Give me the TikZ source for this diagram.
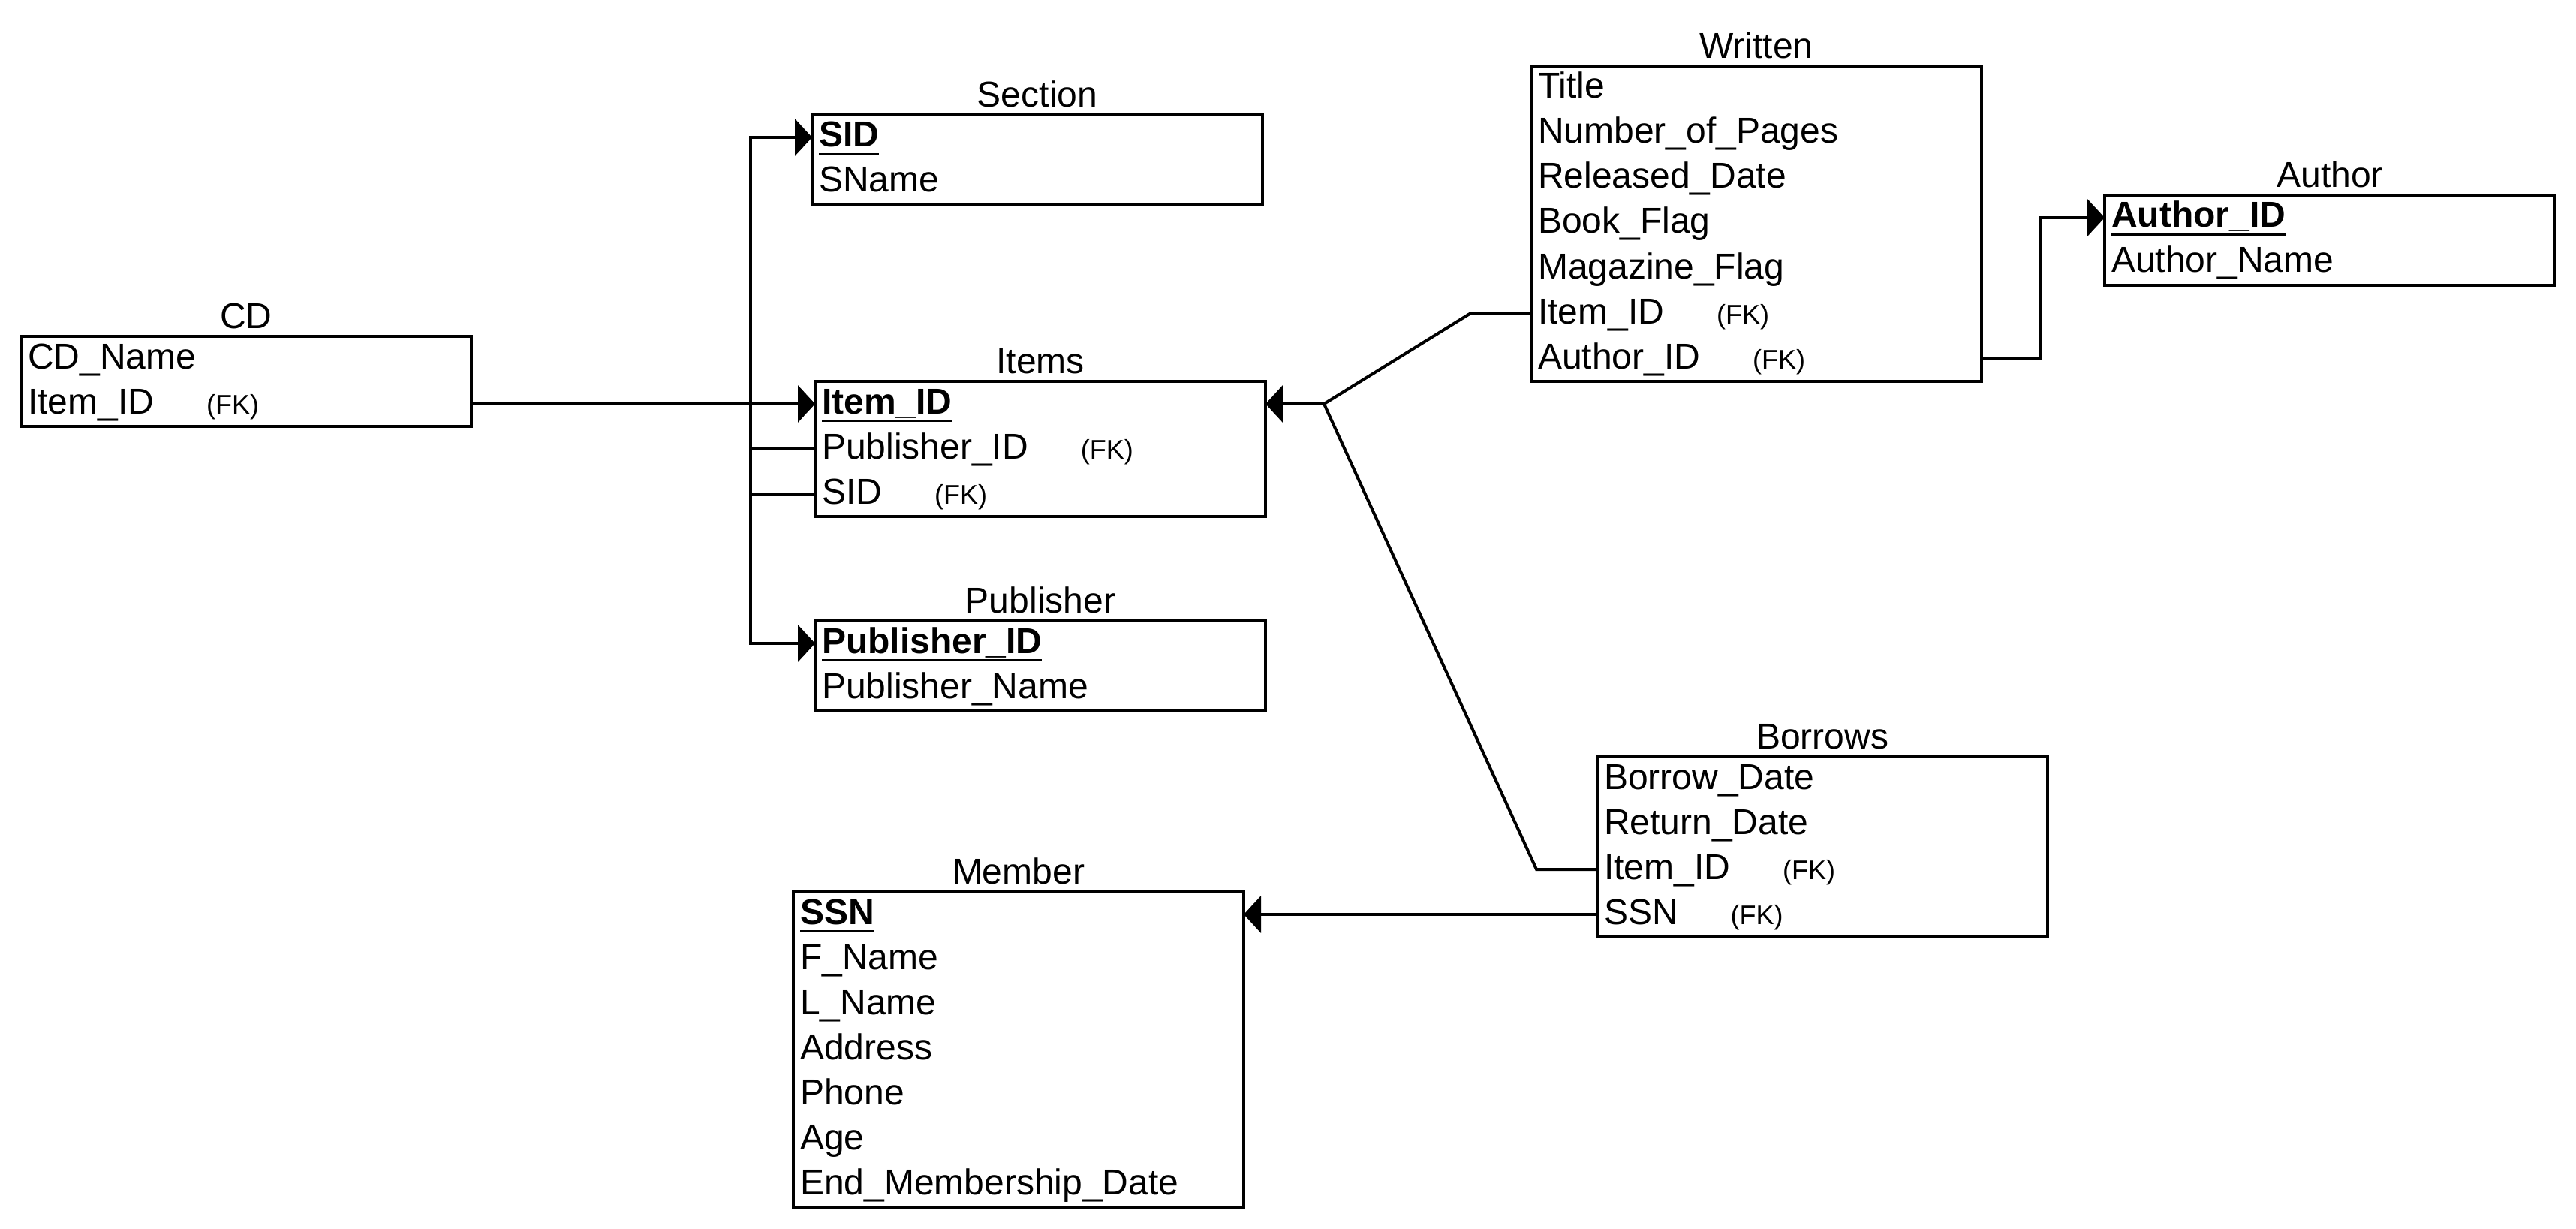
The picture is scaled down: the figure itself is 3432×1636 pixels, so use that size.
\documentclass[tikz,border=0pt]{standalone}
\usepackage{fontspec}
\setmainfont{Liberation Sans}
\usetikzlibrary{positioning, fit, arrows.meta}

\newcommand{\pk}[1]{\setbox0\hbox{\textbf{#1}}\rlap{\rule[-2.75pt]{\wd0}{0.8pt}}\box0}
\newcommand{\fk}{\hspace{17.5pt}{\fontsize{9}{10}\selectfont (FK)}}

\tikzset{
    attr/.style={minimum width=150pt, minimum height=15pt, text width=145.5pt,
        inner xsep=2.25pt, inner ysep=0pt, outer sep=0pt, align=left,
        text height=9.25pt, text depth=2.75pt, font=\fontsize{12}{14}\selectfont},
    entity/.style={draw, line width=1.1pt, inner sep=0pt},
    title/.style={font=\fontsize{12}{14}\selectfont, anchor=base, inner sep=0pt},
    link/.style={line width=1pt},
    ref/.style={link, -{Triangle[length=5.75pt, width=12.25pt]}},
}

\begin{document}
\begin{tikzpicture}[x=0.25pt, y=-0.25pt]
    % one unit is one pixel of the 3432 x 1636 page, y grows downwards
    \useasboundingbox (0,0) rectangle (3432,1636);

    % CD
    \node[attr, anchor=north west] (cd1) at (28,448) {CD\_Name};
    \node[attr] (cd2) [below=0pt of cd1] {Item\_ID\fk};
    \node[entity, fit=(cd1)(cd2)] (cd) {};
    \node[title] (cdT) at ([yshift=2pt]cd.north) {CD};

    % Section
    \node[attr, anchor=north west] (sec1) at (1082,153) {\pk{SID}};
    \node[attr] (sec2) [below=0pt of sec1] {SName};
    \node[entity, fit=(sec1)(sec2)] (sec) {};
    \node[title] (secT) at ([yshift=2pt]sec.north) {Section};

    % Items
    \node[attr, anchor=north west] (it1) at (1086,508) {\pk{Item\_ID}};
    \node[attr] (it2) [below=0pt of it1] {Publisher\_ID\fk};
    \node[attr] (it3) [below=0pt of it2] {SID\fk};
    \node[entity, fit=(it1)(it3)] (it) {};
    \node[title] (itT) at ([yshift=2pt]it.north) {Items};

    % Publisher
    \node[attr, anchor=north west] (pub1) at (1086,827) {\pk{Publisher\_ID}};
    \node[attr] (pub2) [below=0pt of pub1] {Publisher\_Name};
    \node[entity, fit=(pub1)(pub2)] (pub) {};
    \node[title] (pubT) at ([yshift=2pt]pub.north) {Publisher};

    % Written
    \node[attr, anchor=north west] (wr1) at (2040,88) {Title};
    \node[attr] (wr2) [below=0pt of wr1] {Number\_of\_Pages};
    \node[attr] (wr3) [below=0pt of wr2] {Released\_Date};
    \node[attr] (wr4) [below=0pt of wr3] {Book\_Flag};
    \node[attr] (wr5) [below=0pt of wr4] {Magazine\_Flag};
    \node[attr] (wr6) [below=0pt of wr5] {Item\_ID\fk};
    \node[attr] (wr7) [below=0pt of wr6] {Author\_ID\fk};
    \node[entity, fit=(wr1)(wr7)] (wr) {};
    \node[title] (wrT) at ([yshift=2pt]wr.north) {Written};

    % Author
    \node[attr, anchor=north west] (au1) at (2804,260) {\pk{Author\_ID}};
    \node[attr] (au2) [below=0pt of au1] {Author\_Name};
    \node[entity, fit=(au1)(au2)] (au) {};
    \node[title] (auT) at ([yshift=2pt]au.north) {Author};

    % Borrows
    \node[attr, anchor=north west] (bo1) at (2128,1008) {Borrow\_Date};
    \node[attr] (bo2) [below=0pt of bo1] {Return\_Date};
    \node[attr] (bo3) [below=0pt of bo2] {Item\_ID\fk};
    \node[attr] (bo4) [below=0pt of bo3] {SSN\fk};
    \node[entity, fit=(bo1)(bo4)] (bo) {};
    \node[title] (boT) at ([yshift=2pt]bo.north) {Borrows};

    % Member
    \node[attr, anchor=north west] (mem1) at (1057,1188) {\pk{SSN}};
    \node[attr] (mem2) [below=0pt of mem1] {F\_Name};
    \node[attr] (mem3) [below=0pt of mem2] {L\_Name};
    \node[attr] (mem4) [below=0pt of mem3] {Address};
    \node[attr] (mem5) [below=0pt of mem4] {Phone};
    \node[attr] (mem6) [below=0pt of mem5] {Age};
    \node[attr] (mem7) [below=0pt of mem6] {End\_Membership\_Date};
    \node[entity, fit=(mem1)(mem7)] (mem) {};
    \node[title] (memT) at ([yshift=2pt]mem.north) {Member};

    \coordinate (bus) at (1000,600);
    \coordinate[right=19.5pt of it1.east] (jn);

    \draw[ref] (cd2.east) -- (it1.west);
    \draw[ref] (it3.west) -- (it3.west -| bus) |- (sec1.west);
    \draw[ref] (it2.west) -- (it2.west -| bus) |- (pub1.west);
    \draw[link] (wr6.west) -- ++(-20.5pt,0) -- (jn);
    \draw[link] (bo3.west) -- ++(-20.25pt,0) -- (jn);
    \draw[ref] (jn) -- (it1.east);
    \draw[ref] (wr7.east) -- ++(19.75pt,0) |- (au1.west);
    \draw[ref] (bo4.west) -- (mem1.east);
\end{tikzpicture}
\end{document}
